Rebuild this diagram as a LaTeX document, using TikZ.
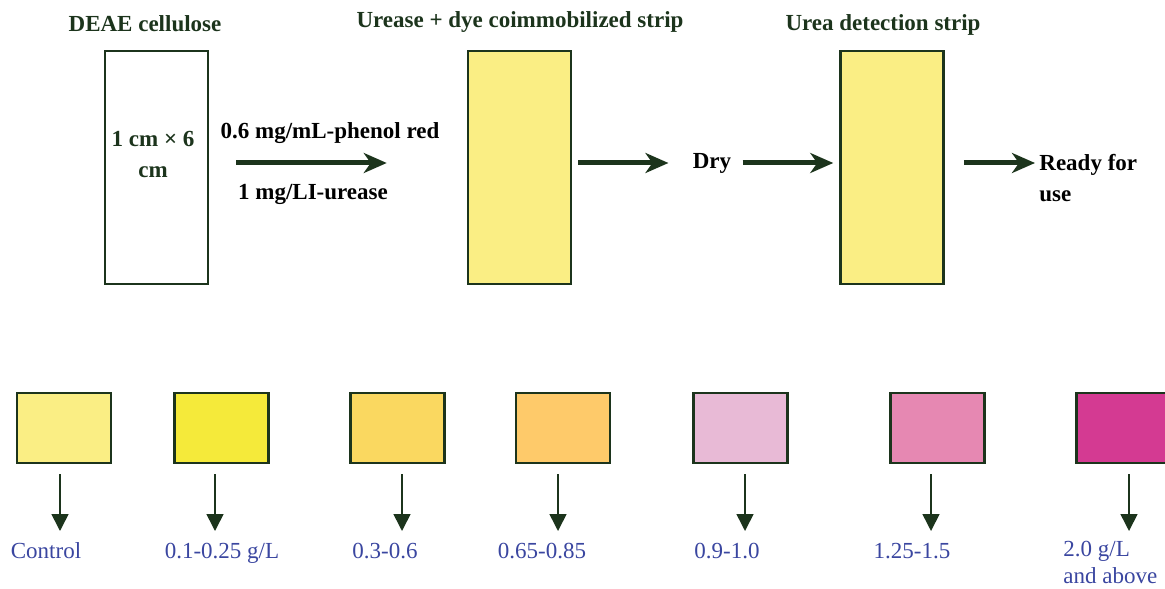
\documentclass[tikz,border=0pt]{standalone}
\usepackage{fontspec}
\setmainfont{Liberation Serif}
\usetikzlibrary{arrows.meta}

\definecolor{edgegreen}{RGB}{28,52,28}
\definecolor{stripyellow}{RGB}{250,238,132}
\definecolor{labelblue}{RGB}{58,70,160}
\definecolor{sw1}{RGB}{250,238,132}
\definecolor{sw2}{RGB}{245,234,58}
\definecolor{sw3}{RGB}{250,216,96}
\definecolor{sw4}{RGB}{254,202,106}
\definecolor{sw5}{RGB}{232,186,214}
\definecolor{sw6}{RGB}{230,136,178}
\definecolor{sw7}{RGB}{212,58,146}

\begin{document}
\begin{tikzpicture}[
  x=0.5pt, y=-0.5pt,
  title/.style={font=\fontsize{11.5}{15}\selectfont\bfseries, text=edgegreen, inner sep=0pt},
  strip/.style={draw=edgegreen, line width=1.25pt, minimum width=51.5pt, minimum height=116.5pt, inner sep=0pt},
  note/.style={font=\fontsize{11.5}{15.5}\selectfont\bfseries, inner sep=0pt},
  flow/.style={draw=edgegreen, line width=2.5pt, -{Stealth[length=11.5pt,width=10pt,inset=3.5pt]}},
  swatch/.style={draw=edgegreen, line width=1.25pt, minimum width=47pt, minimum height=35pt, inner sep=0pt},
  down/.style={draw=edgegreen, line width=0.8pt, -{Triangle[length=8.5pt,width=8.5pt]}},
  level/.style={font=\fontsize{11.5}{14}\selectfont, text=labelblue, inner sep=0pt},
]
  \useasboundingbox (0,0) rectangle (1165,588);

  % preparation of the strip
  \node[title] (t1) at (145,24) {DEAE cellulose};
  \node[title] (t2) at (520,22) {Urease + dye coimmobilized strip};
  \node[title] (t3) at (883,25) {Urea detection strip};

  \node[strip, fill=white] (s1) at (156.5,167.5) {};
  \node[strip, fill=stripyellow] (s2) at (519.5,167.5) {};
  \node[strip, fill=stripyellow] (s3) at (892,167.5) {};
  \node[note, text=edgegreen, align=center] (size) at (153,154) {1 cm × 6\\cm};

  \node[note] (dye) at (330,133) {0.6 mg/mL-phenol red};
  \node[note] (enz) at (313,194) {1 mg/LI-urease};
  \node[note] (dry) at (712,163) {Dry};
  \node[note, anchor=west, align=left] (ready) at (1039,178) {Ready for\\use};

  \draw[flow, shorten <=13.5pt, shorten >=40pt] (s1.east |- dry) -- (s2.west |- dry);
  \draw[flow, shorten <=3pt, shorten >=12pt] (s2.east |- dry) -- (dry.west);
  \draw[flow, shorten <=5.5pt, shorten >=3pt] (dry.east) -- (s3.west |- dry);
  \draw[flow, shorten <=9.5pt, shorten >=2pt] (s3.east |- dry) -- (ready.west |- dry);

  % colour chart
  \foreach \i/\cx/\ax in {1/64/60, 2/221.5/215, 3/397.5/402, 4/563/558,
                          5/740.5/745, 6/937.5/931, 7/1123.5/1129} {
    \node[swatch, fill=sw\i] (c\i) at (\cx,428) {};
    \coordinate (d\i) at (\ax,531);
    \draw[down, shorten <=5pt] (c\i.south -| d\i) -- (d\i);
  }

  \node[level, anchor=base] (l1) at (46,558) {Control};
  \node[level, anchor=base] (l2) at (222,558) {0.1-0.25 g/L};
  \node[level, anchor=base] (l3) at (385,558) {0.3-0.6};
  \node[level, anchor=base] (l4) at (542,558) {0.65-0.85};
  \node[level, anchor=base] (l5) at (727,558) {0.9-1.0};
  \node[level, anchor=base] (l6) at (912,558) {1.25-1.5};
  \node[level, anchor=north west, align=left, font=\fontsize{11.5}{13.5}\selectfont] (l7) at (1063,541) {2.0 g/L\\and above};
\end{tikzpicture}
\end{document}
